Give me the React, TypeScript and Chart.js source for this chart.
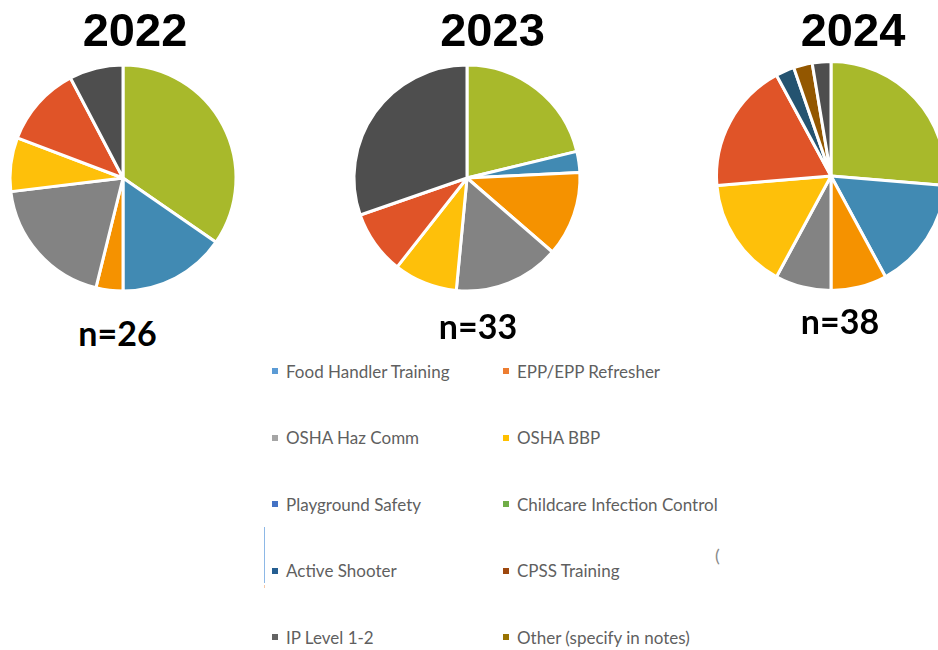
import React, { useEffect, useRef } from "react";
import { Chart, registerables } from "chart.js";

Chart.register(...registerables);

const years = ["2022", "2023", "2024"];
const sampleSizes = ["n=26", "n=33", "n=38"];

const sliceLabels = [
  "Childcare Infection Control",
  "Food Handler Training",
  "EPP/EPP Refresher",
  "OSHA Haz Comm",
  "OSHA BBP",
  "Playground Safety",
  "Active Shooter",
  "CPSS Training",
  "IP Level 1-2",
];
const sliceColors = [
  "#A8B92B",
  "#418AB3",
  "#F59200",
  "#838383",
  "#FEC00A",
  "#E05428",
  "#245370",
  "#935700",
  "#4E4E4E",
];
const counts2022 = [9, 4, 1, 5, 2, 3, 0, 0, 2];
const counts2023 = [7, 1, 4, 5, 3, 3, 0, 0, 10];
const counts2024 = [10, 6, 3, 3, 6, 7, 1, 1, 1];

const legendLabels = [
  "Food Handler Training",
  "EPP/EPP Refresher",
  "OSHA Haz Comm",
  "OSHA BBP",
  "Playground Safety",
  "Childcare Infection Control",
  "Active Shooter",
  "CPSS Training",
  "IP Level 1-2",
  "Other (specify in notes)",
];
const legendColors = [
  "#5B9BD5",
  "#ED7D31",
  "#A5A5A5",
  "#FFC000",
  "#4472C4",
  "#70AD47",
  "#255E91",
  "#9E480E",
  "#636363",
  "#997300",
];

const CANVAS = 260;

function Pie({ values, cx, cy, radius }: { values: number[]; cx: number; cy: number; radius: number }) {
  const ref = useRef<HTMLCanvasElement | null>(null);
  useEffect(() => {
    if (!ref.current) return;
    const chart = new Chart(ref.current, {
      type: "pie",
      data: {
        labels: sliceLabels,
        datasets: [
          {
            data: values,
            backgroundColor: sliceColors,
            borderColor: "#FFFFFF",
            borderWidth: 3,
          },
        ],
      },
      options: {
        responsive: false,
        animation: false,
        radius: radius,
        layout: { padding: 0 },
        plugins: {
          legend: { display: false },
          tooltip: { enabled: false },
          title: { display: false },
        },
      } as any,
    });
    return () => chart.destroy();
  }, [values, radius]);
  return (
    <canvas
      ref={ref}
      width={CANVAS}
      height={CANVAS}
      style={{
        position: "absolute",
        left: cx - CANVAS / 2,
        top: cy - CANVAS / 2,
        width: CANVAS,
        height: CANVAS,
      }}
    />
  );
}

export default function App() {
  const pies = [
    { values: counts2022, cx: 122.5, cy: 178, r: 113 },
    { values: counts2023, cx: 466.5, cy: 178, r: 113 },
    { values: counts2024, cx: 830.8, cy: 176.3, r: 114.5 },
  ];
  const titleX = [135, 492.5, 853];
  const nX = [117.5, 478, 840];
  const nTop = [313, 306, 301];

  return (
    <div
      style={{
        position: "absolute",
        left: 0,
        top: 0,
        width: 938,
        height: 650,
        overflow: "hidden",
        background: "#FFFFFF",
      }}
    >
      {pies.map((p, i) => (
        <Pie key={i} values={p.values} cx={p.cx} cy={p.cy} radius={p.r} />
      ))}
      {years.map((y, i) => (
        <div
          key={y}
          style={{
            position: "absolute",
            left: titleX[i] - 100,
            top: 6,
            width: 200,
            textAlign: "center",
            font: 'bold 47px "Liberation Sans", Arial, sans-serif',
            lineHeight: "47px",
            color: "#000000",
          }}
        >
          {y}
        </div>
      ))}
      {sampleSizes.map((s, i) => (
        <div
          key={s}
          style={{
            position: "absolute",
            left: nX[i] - 100,
            top: nTop[i],
            width: 200,
            textAlign: "center",
            font: 'bold 34px Lato, "Open Sans", sans-serif',
            lineHeight: "40px",
            color: "#000000",
          }}
        >
          {s}
        </div>
      ))}
      {legendLabels.map((label, i) => {
        const col = i % 2;
        const row = Math.floor(i / 2);
        const left = col === 0 ? 272 : 503;
        const yc = 371 + row * 66.6;
        return (
          <div
            key={label}
            style={{
              position: "absolute",
              left,
              top: yc - 11,
              height: 22,
              display: "flex",
              alignItems: "center",
              whiteSpace: "nowrap",
              font: '17px Lato, "Open Sans", sans-serif',
              color: "#5F5F5F",
            }}
          >
            <span
              style={{
                display: "inline-block",
                width: 6,
                height: 6,
                background: legendColors[i],
                marginRight: 8,
              }}
            />
            <span>{label}</span>
          </div>
        );
      })}
      <div
        style={{
          position: "absolute",
          left: 264,
          top: 527,
          width: 1,
          height: 56,
          background: "#8DB8E6",
        }}
      />
      <div
        style={{
          position: "absolute",
          left: 264,
          top: 585,
          width: 1,
          height: 3,
          background: "#F6C8A8",
        }}
      />
      <div
        style={{
          position: "absolute",
          left: 715,
          top: 544,
          font: '18px Lato, sans-serif',
          lineHeight: "22px",
          color: "#8A8A8A",
        }}
      >
        (
      </div>
    </div>
  );
}
